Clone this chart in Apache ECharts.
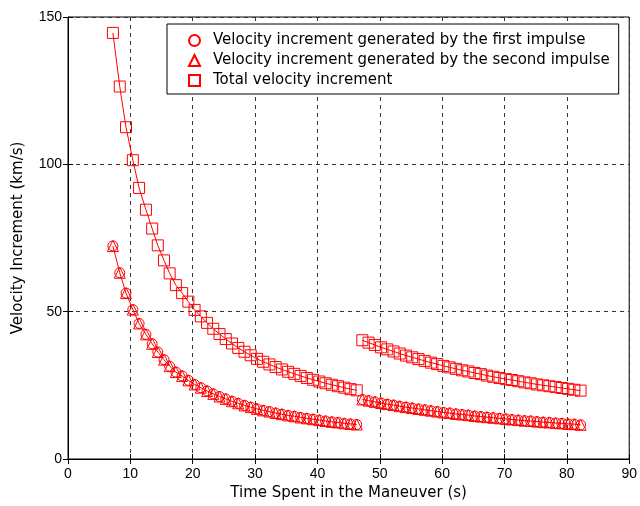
<!DOCTYPE html>
<html>
<head>
<meta charset="utf-8">
<script src="https://cdn.jsdelivr.net/npm/echarts@6/dist/echarts.min.js"></script>
<style>
  html, body { margin: 0; padding: 0; background: #fff; }
  #chart { width: 640px; height: 506px; }
</style>
</head>
<body>
<div id="chart"></div>
<script>
// first arc of manoeuvres (short transfers)
var timeA = [7.2, 8.3, 9.3, 10.4, 11.4, 12.5, 13.5, 14.4, 15.4, 16.3, 17.3,
  18.3, 19.3, 20.3, 21.3, 22.3, 23.3, 24.3, 25.3, 26.3, 27.3, 28.3, 29.3, 30.3,
  31.3, 32.3, 33.3, 34.3, 35.3, 36.3, 37.3, 38.3, 39.3, 40.3, 41.3, 42.3, 43.3, 44.3, 45.3, 46.3];
var totalA = [144.6, 126.4, 112.6, 101.4, 92.0, 84.6, 78.2, 72.5, 67.4, 63.0, 59.0,
  56.3, 53.4, 50.6, 48.4, 46.2, 44.2, 42.4, 40.7, 39.2, 37.7, 36.4, 35.2, 34.0,
  33.0, 32.1, 31.2, 30.4, 29.6, 28.9, 28.2, 27.5, 26.9, 26.3, 25.7, 25.2, 24.7, 24.2, 23.7, 23.3];
var firstA = [72.3, 63.2, 56.3, 50.7, 46.0, 42.3, 39.1, 36.3, 33.7, 31.5, 29.5,
  28.2, 26.7, 25.3, 24.2, 23.1, 22.1, 21.2, 20.4, 19.6, 18.9, 18.2, 17.6, 17.0,
  16.5, 16.1, 15.6, 15.2, 14.8, 14.5, 14.1, 13.8, 13.5, 13.2, 12.9, 12.6, 12.4, 12.1, 11.9, 11.7];
var secondA = firstA.slice();

// second arc (long transfers)
var timeB = [47.2, 48.2, 49.2, 50.2, 51.2, 52.2, 53.2, 54.2, 55.2, 56.2, 57.2, 58.2,
  59.2, 60.2, 61.2, 62.2, 63.2, 64.2, 65.2, 66.2, 67.2, 68.2, 69.2, 70.2,
  71.2, 72.2, 73.2, 74.2, 75.2, 76.2, 77.2, 78.2, 79.2, 80.2, 81.2, 82.2];
var totalB = [40.3, 39.5, 38.7, 37.9, 37.2, 36.5, 35.8, 35.1, 34.5, 33.9, 33.3, 32.7,
  32.2, 31.6, 31.1, 30.6, 30.1, 29.7, 29.2, 28.8, 28.3, 27.9, 27.5, 27.1,
  26.8, 26.4, 26.0, 25.7, 25.3, 25.0, 24.7, 24.4, 24.1, 23.8, 23.5, 23.2];
var firstB = [20.2, 19.8, 19.4, 19.0, 18.6, 18.3, 17.9, 17.6, 17.3, 17.0, 16.7, 16.4,
  16.1, 15.8, 15.6, 15.3, 15.1, 14.9, 14.6, 14.4, 14.2, 14.0, 13.8, 13.6,
  13.4, 13.2, 13.0, 12.9, 12.7, 12.5, 12.4, 12.2, 12.1, 11.9, 11.8, 11.6];
var secondB = firstB.slice();

var xTicks = [0, 10, 20, 30, 40, 50, 60, 70, 80, 90];
var yTicks = [0, 50, 100, 150];

var nameFirst = "Velocity increment generated by the first impulse";
var nameSecond = "Velocity increment generated by the second impulse";
var nameTotal = "Total velocity increment";

var red = "#ff0000";
var font = "Liberation Sans";
var textFont = "DejaVu Sans";

function pairs(t, v) {
  return t.map(function (x, i) { return [x, v[i]]; });
}

/**
 * one segment of one quantity
 */
function seg(name, symbol, size, t, v, withLine) {
  return {
    name: name,
    type: "line",
    data: pairs(t, v),
    symbol: symbol,
    symbolSize: size,
    showAllSymbol: true,
    itemStyle: { color: "rgba(0,0,0,0)", borderColor: red, borderWidth: 1 },
    lineStyle: { color: red, width: withLine ? 1 : 0, opacity: withLine ? 1 : 0 },
    emphasis: { disabled: true },
    animation: false,
    z: 3
  };
}

var chart = echarts.init(document.getElementById("chart"));

var gridLine = { show: true, lineStyle: { color: "#333", type: [4, 4], width: 1 } };
var tickStyle = { color: "#000", fontFamily: font, fontSize: 14 };
var nameStyle = { color: "#000", fontFamily: textFont, fontSize: 15 };

chart.setOption({
  backgroundColor: "#fff",
  grid: { left: 68, right: 10, top: 17, bottom: 44, show: true, borderColor: "#000", borderWidth: 1 },
  legend: {
    orient: "vertical",
    left: 167,
    top: 24,
    padding: [9, 9, 6, 21],
    itemGap: 5,
    itemWidth: 11,
    itemHeight: 11,
    backgroundColor: "#fff",
    borderColor: "#000",
    borderWidth: 1,
    selectedMode: false,
    textStyle: { color: "#000", fontFamily: textFont, fontSize: 15, padding: [0, 0, 0, 8] },
    data: [
      { name: nameFirst, icon: "circle" },
      { name: nameSecond, icon: "triangle" },
      { name: nameTotal, icon: "rect" }
    ]
  },
  xAxis: [{
    type: "value", min: xTicks[0], max: xTicks[xTicks.length - 1], interval: 10,
    name: "Time Spent in the Maneuver (s)", nameLocation: "middle", nameGap: 27,
    nameTextStyle: nameStyle,
    axisLine: { show: true, lineStyle: { color: "#000" } },
    axisTick: { show: true, inside: true, length: 5, lineStyle: { color: "#000" } },
    axisLabel: Object.assign({ margin: 8 }, tickStyle),
    splitLine: gridLine
  }, {
    type: "value", position: "top", min: 0, max: 90, interval: 10,
    axisLine: { show: true, lineStyle: { color: "#000" } },
    axisTick: { show: true, inside: true, length: 5, lineStyle: { color: "#000" } },
    axisLabel: { show: false }, splitLine: { show: false }
  }],
  yAxis: [{
    type: "value", min: yTicks[0], max: yTicks[yTicks.length - 1], interval: 50,
    name: "Velocity Increment (km/s)", nameLocation: "middle", nameGap: 42,
    nameTextStyle: nameStyle,
    axisLine: { show: true, lineStyle: { color: "#000" } },
    axisTick: { show: true, inside: true, length: 5, lineStyle: { color: "#000" } },
    axisLabel: Object.assign({ margin: 6 }, tickStyle),
    splitLine: gridLine
  }, {
    type: "value", position: "right", min: 0, max: 150, interval: 50,
    axisLine: { show: true, lineStyle: { color: "#000" } },
    axisTick: { show: true, inside: true, length: 5, lineStyle: { color: "#000" } },
    axisLabel: { show: false }, splitLine: { show: false }
  }],
  series: [
    seg(nameFirst, "circle", 10, timeA, firstA, false),
    seg(nameFirst, "circle", 10, timeB, firstB, false),
    seg(nameSecond, "triangle", 11, timeA, secondA, true),
    seg(nameSecond, "triangle", 11, timeB, secondB, true),
    seg(nameTotal, "rect", 11, timeA, totalA, true),
    seg(nameTotal, "rect", 11, timeB, totalB, true)
  ]
});
</script>
</body>
</html>
